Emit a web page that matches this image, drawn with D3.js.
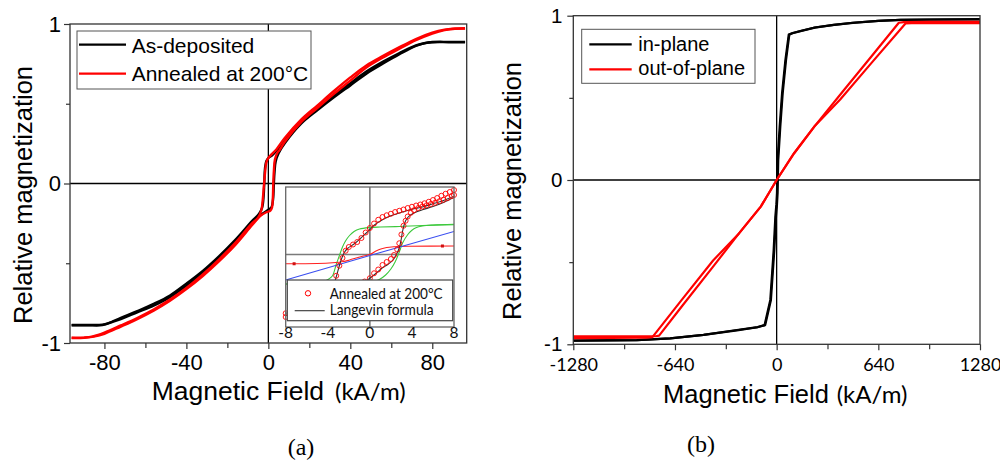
<!DOCTYPE html>
<html>
<head>
<meta charset="utf-8">
<script src="https://cdn.jsdelivr.net/npm/d3@7"></script>
<style>
  html, body { margin: 0; padding: 0; background: #fff; }
  svg { display: block; }
</style>
</head>
<body>
<svg id="fig" width="1000" height="464"></svg>
<script>
// ---------- Panel (a): hysteresis loops, field in kA/m ----------
// descending branch (+sat -> -sat) and ascending branch (-sat -> +sat)
const asDepDown = [[96,0.888],[88,0.888],[80,0.887],[76,0.879],[72,0.866],[64,0.818],[56,0.764],[48,0.703],[40,0.628],[32,0.553],[24,0.47],[16,0.385],[8,0.27],[4,0.205],[2,0.178],[0,0.16],[-1,0.14],[-1.6,0.1],[-2,0.0],[-2.3,-0.08],[-3,-0.15],[-4.5,-0.19],[-8,-0.236],[-16,-0.352],[-24,-0.455],[-32,-0.548],[-40,-0.628],[-48,-0.702],[-56,-0.755],[-64,-0.8],[-72,-0.842],[-78,-0.875],[-81,-0.885],[-88,-0.887],[-96,-0.887]];
const asDepUp = [[-96,-0.889],[-88,-0.889],[-81,-0.888],[-76,-0.868],[-72,-0.85],[-64,-0.808],[-56,-0.766],[-48,-0.713],[-40,-0.642],[-32,-0.56],[-24,-0.465],[-16,-0.362],[-8,-0.25],[-4,-0.2],[0,-0.165],[1.5,-0.15],[2.3,-0.1],[2.7,0.0],[3.0,0.07],[3.6,0.14],[5,0.19],[8,0.252],[16,0.375],[24,0.46],[32,0.54],[40,0.615],[48,0.69],[56,0.752],[64,0.81],[72,0.862],[77,0.882],[80,0.886],[88,0.886],[96,0.886]];
const annealedDown = [[96,0.973],[90,0.971],[86,0.965],[80,0.946],[72,0.906],[64,0.855],[56,0.8],[48,0.742],[40,0.665],[32,0.58],[24,0.49],[16,0.4],[8,0.285],[4,0.215],[1,0.175],[0,0.16],[-1,0.13],[-1.6,0.07],[-2.2,-0.02],[-2.8,-0.11],[-3.4,-0.166],[-5,-0.215],[-8,-0.25],[-16,-0.37],[-24,-0.475],[-32,-0.57],[-40,-0.655],[-48,-0.728],[-56,-0.79],[-64,-0.843],[-72,-0.89],[-80,-0.935],[-86,-0.96],[-90,-0.966],[-96,-0.967]];
const annealedUp = [[-96,-0.969],[-90,-0.968],[-86,-0.962],[-80,-0.942],[-72,-0.897],[-64,-0.85],[-56,-0.797],[-48,-0.735],[-40,-0.662],[-32,-0.58],[-24,-0.487],[-16,-0.383],[-8,-0.262],[-4,-0.205],[-1,-0.18],[1,-0.17],[1.8,-0.15],[2.2,-0.09],[2.4,0.0],[2.7,0.08],[3.2,0.15],[4.5,0.195],[5.5,0.21],[8,0.262],[16,0.385],[24,0.475],[32,0.562],[40,0.645],[48,0.728],[56,0.79],[64,0.845],[72,0.898],[80,0.94],[86,0.962],[90,0.969],[96,0.971]];

const xTicksA = [-80, -40, 0, 40, 80];
const xMinorA = [-60, -20, 20, 60];
const yTicks = [-1, 0, 1];
const yMinor = [-0.5, 0.5];
const legendA = ["As-deposited", "Annealed at 200\u00B0C"];

// ---------- Inset of (a): low-field detail, -8..8 kA/m ----------
const insetDataDown = [[8.0,0.258],[7.6,0.25],[7.2,0.243],[6.8,0.235],[6.4,0.226],[6.0,0.218],[5.6,0.211],[5.2,0.205],[4.8,0.2],[4.4,0.196],[4.0,0.191],[3.6,0.186],[3.2,0.18],[2.8,0.175],[2.4,0.17],[2.0,0.163],[1.6,0.157],[1.2,0.15],[0.8,0.139],[0.4,0.124],[0.0,0.106],[-0.4,0.088],[-0.8,0.066],[-1.2,0.05],[-1.6,0.04],[-2.0,0.03],[-2.3,0.015],[-2.6,-0.014],[-2.9,-0.045],[-3.2,-0.085],[-3.6,-0.13],[-4.0,-0.16],[-5,-0.19],[-6,-0.21],[-7,-0.225],[-8,-0.235]];
const insetDataUp = [[-8,-0.25],[-7,-0.24],[-6,-0.225],[-5,-0.21],[-4,-0.19],[-3,-0.17],[-2,-0.145],[-1,-0.12],[-0.5,-0.108],[0,-0.095],[0.4,-0.075],[0.8,-0.06],[1.2,-0.042],[1.6,-0.03],[2.0,-0.018],[2.3,-0.002],[2.6,0.02],[2.8,0.045],[3.0,0.08],[3.2,0.115],[3.4,0.135],[3.6,0.152],[3.9,0.167],[4.2,0.177],[4.6,0.186],[5.0,0.192],[5.4,0.197],[5.8,0.202],[6.2,0.207],[6.6,0.213],[7.0,0.219],[7.4,0.226],[7.8,0.234],[8.0,0.238]];
const langevinDown = [[-8,-0.235],[-6,-0.215],[-5,-0.2],[-4,-0.17],[-3.5,-0.13],[-3.2,-0.09],[-2.9,-0.045],[-2.67,-0.015],[-2.4,0.01],[-2.1,0.025],[-1.5,0.042],[-1,0.06],[-0.5,0.08],[0,0.1],[0.5,0.12],[1.2,0.139],[2,0.155],[3.1,0.17],[4,0.181],[5,0.19],[6,0.203],[7,0.216],[8,0.233]];
const langevinUp = [[-8,-0.245],[-6,-0.225],[-4,-0.19],[-2,-0.15],[-1,-0.125],[0,-0.095],[0.6,-0.075],[1.2,-0.053],[1.7,-0.04],[2.16,-0.024],[2.5,-0.002],[2.8,0.027],[3.0,0.065],[3.11,0.093],[3.37,0.132],[3.6,0.148],[3.9,0.159],[4.4,0.17],[5,0.179],[6,0.192],[7,0.208],[8,0.228]];
const greenLeft = [[-8,-0.118],[-6,-0.116],[-5,-0.113],[-4.3,-0.107],[-3.9,-0.098],[-3.55,-0.085],[-3.2,-0.04],[-2.9,-0.005],[-2.6,0.03],[-2.3,0.055],[-1.93,0.076],[-1.5,0.092],[-0.98,0.102],[0,0.108],[1,0.11],[2.83,0.112],[5,0.116],[8,0.119]];
const greenRight = [[-8,-0.118],[-3,-0.117],[-1,-0.115],[0,-0.112],[0.9,-0.1],[1.5,-0.082],[2.0,-0.058],[2.4,-0.03],[2.8,0.01],[3.11,0.046],[3.59,0.079],[4.0,0.097],[4.38,0.107],[5,0.114],[6,0.118],[8,0.121]];
const redComponent = [[-8,-0.037],[-5,-0.036],[-3.55,-0.033],[-2.5,-0.028],[-1.93,-0.022],[-1.2,-0.013],[-0.7,-0.007],[0,0],[0.5,0.012],[0.9,0.02],[1.4,0.026],[1.85,0.029],[2.8,0.032],[3.75,0.033],[8,0.034]];
const redComponentMarks = [[-7.2,-0.037],[6.9,0.034]];
const blueComponent = [[-8,-0.102],[0,-0.004],[8,0.092]];
const xTicksInset = [-8, -4, 0, 4, 8];
const legendInset = ["Annealed at 200\u00B0C", "Langevin formula"];

// ---------- Panel (b): in-plane vs out-of-plane ----------
const inPlaneDown = [[1280,0.978],[960,0.976],[780,0.974],[640,0.968],[480,0.956],[360,0.944],[240,0.927],[150,0.906],[100,0.893],[76,0.885],[55,0.73],[34,0.527],[19,0.324],[6,0.12],[2,-0.08],[-2,-0.15],[-8,-0.22],[-19,-0.43],[-40,-0.73],[-76,-0.883],[-120,-0.896],[-250,-0.915],[-460,-0.943],[-670,-0.964],[-880,-0.974],[-1280,-0.978]];
const inPlaneUp = [[-1280,-0.978],[-880,-0.974],[-670,-0.964],[-460,-0.943],[-250,-0.913],[-120,-0.895],[-72,-0.883],[-36,-0.73],[-15,-0.43],[-4,-0.22],[2,-0.15],[6,-0.08],[10,0.12],[23,0.324],[38,0.527],[59,0.73],[80,0.886],[100,0.895],[150,0.907],[240,0.928],[360,0.944],[480,0.957],[640,0.969],[780,0.975],[960,0.977],[1280,0.979]];
const outPlaneDown = [[1280,0.963],[960,0.963],[800,0.961],[769,0.957],[600,0.756],[420,0.543],[237,0.325],[110,0.163],[0,0],[-100,-0.162],[-237,-0.325],[-400,-0.49],[-600,-0.733],[-782,-0.956],[-820,-0.96],[-1280,-0.962]];
const outPlaneUp = [[-1280,-0.952],[-960,-0.952],[-760,-0.951],[-740,-0.947],[-600,-0.773],[-400,-0.527],[-237,-0.325],[-100,-0.162],[0,0],[110,0.163],[237,0.325],[400,0.49],[600,0.716],[811,0.953],[850,0.955],[1280,0.955]];

const xTicksB = [-1280, -640, 0, 640, 1280];
const xMinorB = [-960, -320, 320, 960];
const legendB = ["in-plane", "out-of-plane"];

// ---------- drawing ----------
const ARIAL = "'Liberation Sans', Arial, sans-serif";
const CALI = "Lato, 'Open Sans', sans-serif";
const SERIF = "'Liberation Serif', 'Times New Roman', serif";
const RED = "#ff0000", BLACK = "#000000";
const svg = d3.select("#fig");
const defs = svg.append("defs");

function styleAxis(g, font, size) {
  g.select(".domain").remove();
  g.attr("font-family", font).attr("font-size", size);
  g.selectAll(".tick line").attr("stroke", "#333").attr("stroke-width", 1.2);
  g.selectAll(".tick text").attr("fill", "#000");
}

function drawPanel(opt) {
  const { x, y, id } = opt;
  const [x0, x1] = x.range(), [y0, y1] = y.range();
  const g = svg.append("g");

  defs.append("clipPath").attr("id", id)
    .append("rect").attr("x", x0).attr("y", y1).attr("width", x1 - x0).attr("height", y0 - y1);

  // zero cross-hairs
  g.append("line").attr("x1", x(0)).attr("x2", x(0)).attr("y1", y1).attr("y2", y0)
    .attr("stroke", "#000").attr("stroke-width", 1.3);
  g.append("line").attr("x1", x0).attr("x2", x1).attr("y1", y(0)).attr("y2", y(0))
    .attr("stroke", "#000").attr("stroke-width", 1.3);

  const line = d3.line().x(d => x(d[0])).y(d => y(d[1])).curve(opt.curve);
  const cg = g.append("g").attr("clip-path", `url(#${id})`);
  opt.series.forEach(s => {
    cg.append("path").attr("d", line(s.data)).attr("fill", "none")
      .attr("stroke", s.color).attr("stroke-width", opt.lineWidth).attr("stroke-linejoin", "round");
  });

  // frame
  g.append("rect").attr("x", x0).attr("y", y1).attr("width", x1 - x0).attr("height", y0 - y1)
    .attr("fill", "none").attr("stroke", "#333").attr("stroke-width", 1.3);

  // axes
  const ax = g.append("g").attr("transform", `translate(0,${y0})`)
    .call(d3.axisBottom(x).tickValues(opt.xTicks).tickSize(6).tickPadding(opt.xPad).tickFormat(d => String(d)));
  styleAxis(ax, opt.xFont, opt.xFontSize);
  const axm = g.append("g").attr("transform", `translate(0,${y0})`)
    .call(d3.axisBottom(x).tickValues(opt.xMinor).tickSize(5).tickFormat(""));
  styleAxis(axm, ARIAL, 10);

  const ay = g.append("g").attr("transform", `translate(${x0},0)`)
    .call(d3.axisLeft(y).tickValues(yTicks).tickSize(6).tickPadding(opt.yPad).tickFormat(d => String(d)));
  styleAxis(ay, ARIAL, opt.yFontSize);
  const aym = g.append("g").attr("transform", `translate(${x0},0)`)
    .call(d3.axisLeft(y).tickValues(yMinor).tickSize(4).tickFormat(""));
  styleAxis(aym, ARIAL, 10);

  // axis titles
  g.append("text").attr("transform", `translate(${opt.yTitleX},${opt.yTitleY}) rotate(-90)`)
    .attr("text-anchor", "middle").attr("font-family", ARIAL).attr("font-size", opt.yTitleSize)
    .text("Relative magnetization");
  g.append("text").attr("x", opt.xTitleX).attr("y", opt.xTitleY)
    .attr("font-family", ARIAL).attr("font-size", opt.xTitleSize).text("Magnetic Field");
  g.append("text").attr("x", opt.unitX).attr("y", opt.xTitleY)
    .attr("font-family", CALI).attr("font-size", 24).text("(kA/m)");

  // legend
  const L = opt.legend;
  const lg = g.append("g");
  lg.append("rect").attr("x", L.x).attr("y", L.y).attr("width", L.w).attr("height", L.h)
    .attr("fill", "#fff").attr("stroke", "#555").attr("stroke-width", 1);
  L.labels.forEach((t, i) => {
    lg.append("line").attr("x1", L.lx0).attr("x2", L.lx1)
      .attr("y1", L.ly[i]).attr("y2", L.ly[i])
      .attr("stroke", [BLACK, RED][i]).attr("stroke-width", 2.2);
    lg.append("text").attr("x", L.tx).attr("y", L.ty[i])
      .attr("font-family", ARIAL).attr("font-size", L.size).text(t);
  });

  // panel tag
  g.append("text").attr("x", opt.tagX).attr("y", opt.tagY).attr("text-anchor", "middle")
    .attr("font-family", SERIF).attr("font-size", 24).text(opt.tag);
  return g;
}

// panel (a)
const xA = d3.scaleLinear().domain([-96.8, 96.8]).range([70, 466.7]);
const yA = d3.scaleLinear().domain([-1, 1]).range([343, 24]);
drawPanel({
  id: "clipA", x: xA, y: yA, curve: d3.curveCatmullRom.alpha(0.5), lineWidth: 2.4,
  series: [
    { data: asDepDown, color: BLACK }, { data: asDepUp, color: BLACK },
    { data: annealedDown, color: RED }, { data: annealedUp, color: RED }
  ],
  xTicks: xTicksA, xMinor: xMinorA, xPad: 5, xFont: ARIAL, xFontSize: 22,
  yPad: 3, yFontSize: 22,
  yTitleX: 32, yTitleY: 195, yTitleSize: 25.5,
  xTitleX: 151.7, xTitleY: 400, xTitleSize: 26.5, unitX: 335,
  legend: { x: 77, y: 31, w: 234, h: 58, lx0: 79, lx1: 126, ly: [44.7, 73.7],
            tx: 131.7, ty: [53, 81], size: 21, labels: legendA },
  tag: "(a)", tagX: 301, tagY: 455
});

// inset of panel (a)
const xI = d3.scaleLinear().domain([-8, 8]).range([285.7, 454]);
const yI = d3.scaleLinear().domain([-0.29, 0.27]).range([327, 187]);
const gi = svg.append("g");
defs.append("clipPath").attr("id", "clipI").append("rect")
  .attr("x", 285.7).attr("y", 187).attr("width", 454 - 285.7).attr("height", 327 - 187);
gi.append("rect").attr("x", 285.7).attr("y", 187).attr("width", 454 - 285.7).attr("height", 327 - 187)
  .attr("fill", "#fff");
gi.append("line").attr("x1", xI(0)).attr("x2", xI(0)).attr("y1", 187).attr("y2", 327)
  .attr("stroke", "#7a7a7a").attr("stroke-width", 1.6);
gi.append("line").attr("x1", 285.7).attr("x2", 454).attr("y1", yI(0)).attr("y2", yI(0))
  .attr("stroke", "#7a7a7a").attr("stroke-width", 1.6);
const lineI = d3.line().x(d => xI(d[0])).y(d => yI(d[1])).curve(d3.curveCatmullRom.alpha(0.5));
const ci = gi.append("g").attr("clip-path", "url(#clipI)");
[[greenLeft, "#3cc83c"], [greenRight, "#3cc83c"], [redComponent, "#ff2020"], [blueComponent, "#3a4ef0"]]
  .forEach(([d, c]) => ci.append("path").attr("d", lineI(d)).attr("fill", "none")
    .attr("stroke", c).attr("stroke-width", 1.1));
ci.selectAll(".rc").data(redComponentMarks).join("rect")
  .attr("x", d => xI(d[0]) - 1.5).attr("y", d => yI(d[1]) - 1.5).attr("width", 3).attr("height", 3)
  .attr("fill", "#d01010");
gi.selectAll(".pt").data(insetDataDown.concat(insetDataUp)).join("circle")
  .attr("cx", d => xI(d[0])).attr("cy", d => yI(d[1])).attr("r", 2.5)
  .attr("fill", "none").attr("stroke", RED).attr("stroke-width", 0.9);
[langevinDown, langevinUp].forEach(d => ci.append("path").attr("d", lineI(d))
  .attr("fill", "none").attr("stroke", "#333").attr("stroke-width", 1.1));
// inset legend
const il = gi.append("g");
il.append("rect").attr("x", 287.3).attr("y", 280).attr("width", 165.4).attr("height", 40.7)
  .attr("fill", "#fff").attr("stroke", "#444").attr("stroke-width", 1.2);
il.append("circle").attr("cx", 308).attr("cy", 293.3).attr("r", 2.7)
  .attr("fill", "none").attr("stroke", RED).attr("stroke-width", 1);
il.append("line").attr("x1", 294.7).attr("x2", 324.7).attr("y1", 310.7).attr("y2", 310.7)
  .attr("stroke", "#333").attr("stroke-width", 1.1);
legendInset.forEach((t, i) => il.append("text").attr("x", 329.7).attr("y", [299, 315][i])
  .attr("font-family", CALI).attr("font-size", 15).attr("fill", "#111")
  .attr("textLength", [113, 104][i]).attr("lengthAdjust", "spacingAndGlyphs").text(t));
gi.append("rect").attr("x", 285.7).attr("y", 187).attr("width", 454 - 285.7).attr("height", 327 - 187)
  .attr("fill", "none").attr("stroke", "#666").attr("stroke-width", 1.3);
gi.selectAll(".itl").data(xTicksInset).join("text")
  .attr("x", d => xI(d)).attr("y", 337.5).attr("text-anchor", "middle")
  .attr("font-family", CALI).attr("font-size", 15.5).attr("fill", "#111").text(d => String(d));

// panel (b)
const xB = d3.scaleLinear().domain([-1280, 1280]).range([573.3, 980]);
const yB = d3.scaleLinear().domain([-1, 1]).range([344.3, 15.7]);
drawPanel({
  id: "clipB", x: xB, y: yB, curve: d3.curveLinear, lineWidth: 2.2,
  series: [
    { data: inPlaneDown, color: BLACK }, { data: inPlaneUp, color: BLACK },
    { data: outPlaneDown, color: RED }, { data: outPlaneUp, color: RED }
  ],
  xTicks: xTicksB, xMinor: xMinorB, xPad: 8, xFont: CALI, xFontSize: 18,
  yPad: 5, yFontSize: 20.5,
  yTitleX: 521, yTitleY: 191, yTitleSize: 25.5,
  xTitleX: 663, xTitleY: 403, xTitleSize: 25.5, unitX: 836.7,
  legend: { x: 581.7, y: 29.3, w: 173.3, h: 54, lx0: 589.3, lx1: 631.7, ly: [44.3, 69.3],
            tx: 638.3, ty: [50.5, 75], size: 20, labels: legendB },
  tag: "(b)", tagX: 701, tagY: 452
});
</script>
</body>
</html>
